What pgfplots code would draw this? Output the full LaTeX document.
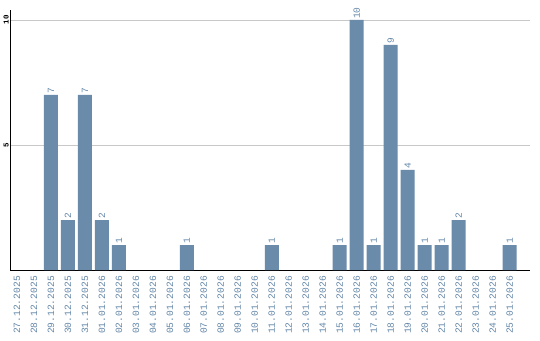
\documentclass[border=0pt]{standalone}
\usepackage{pgfplots}
\pgfplotsset{compat=1.18}
\usepackage{fontspec}
\setmainfont{Liberation Mono}
\definecolor{barc}{RGB}{106,139,170}
\definecolor{labc}{RGB}{100,135,168}
\definecolor{gridc}{RGB}{200,200,200}
\begin{document}
\begin{tikzpicture}
\path[use as bounding box] (0,0) rectangle (540pt,340pt);
\begin{axis}[
  at={(10pt,70pt)}, anchor=south west,
  scale only axis, width=520pt, height=260pt,
  xmin=-0.41, xmax=30.2, ymin=0, ymax=10.4,
  axis x line=bottom, axis y line=left,
  axis line style={-, black, line width=1pt},
  xtick={0,...,29},
  xticklabels={27.12.2025,28.12.2025,29.12.2025,30.12.2025,31.12.2025,01.01.2026,02.01.2026,03.01.2026,04.01.2026,05.01.2026,06.01.2026,07.01.2026,08.01.2026,09.01.2026,10.01.2026,11.01.2026,12.01.2026,13.01.2026,14.01.2026,15.01.2026,16.01.2026,17.01.2026,18.01.2026,19.01.2026,20.01.2026,21.01.2026,22.01.2026,23.01.2026,24.01.2026,25.01.2026},
  xticklabel shift=5pt,
  x tick label style={rotate=90, anchor=east, font=\fontsize{9.6}{10}\selectfont, text=labc, inner sep=1pt},
  ytick={5,10},
  y tick label style={rotate=90, anchor=south, font=\fontsize{7.5}{8}\selectfont\bfseries, text=black, inner sep=1pt},
  /pgf/number format/assume math mode=true,
  major tick length=0pt,
  ymajorgrids, grid style={gridc, line width=0.8pt},
  clip=false,
]
\addplot[ybar, bar width=14pt, fill=barc, draw=none,
  nodes near coords,
  every node near coord/.append style={rotate=90, anchor=west, font=\fontsize{9.5}{10}\selectfont, text=labc, inner sep=1pt}]
coordinates {(2,7) (3,2) (4,7) (5,2) (6,1) (10,1) (15,1) (19,1) (20,10) (21,1) (22,9) (23,4) (24,1) (25,1) (26,2) (29,1)};
\end{axis}
\end{tikzpicture}
\end{document}
